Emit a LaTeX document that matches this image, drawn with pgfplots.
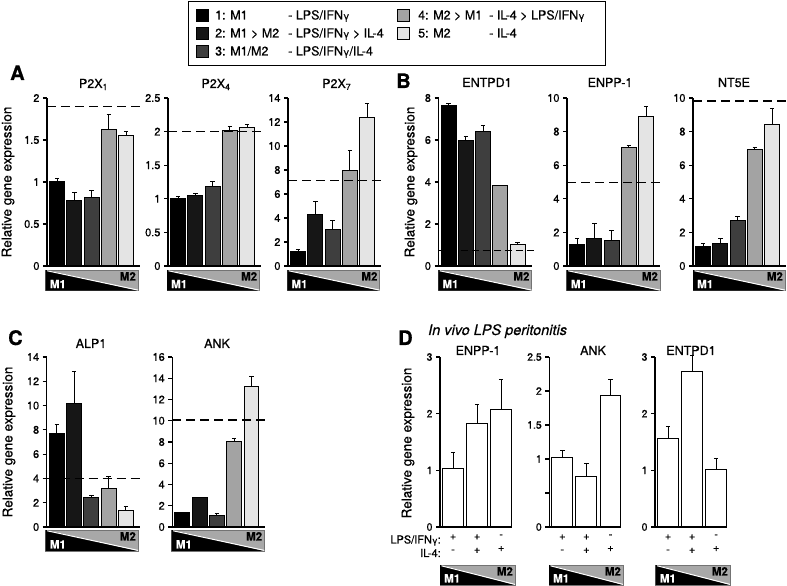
\documentclass[border=0pt]{standalone}
\usepackage{pgfplots}
\pgfplotsset{compat=1.18}
\usepackage{fontspec}
\setmainfont{TeX Gyre Heros}[FakeBold=0.6]
\definecolor{c1}{HTML}{000000}
\definecolor{c2}{HTML}{161616}
\definecolor{c3}{HTML}{3E3E3E}
\definecolor{c4}{HTML}{A3A3A3}
\definecolor{c5}{HTML}{E4E4E4}
\definecolor{boxgray}{HTML}{A8A8A8}
\pgfplotsset{
  panel/.style={
    scale only axis, anchor=south west, width=93pt, height=168pt,
    axis lines=left, axis line style={-, line width=1.1pt},
    ymin=0, xmin=0.42, xmax=5.8,
    xtick=\empty, tick align=outside, major tick length=4pt,
    ytick style={line width=1.1pt, black},
    yticklabel style={font=\fontsize{11}{12}\selectfont},
    /pgf/number format/assume math mode=true,
    clip=false,
  },
  dpanel/.style={
    panel, width=72pt, height=170pt, xmin=0.46, xmax=3.45,
    xtick={1,2,3}, xticklabels={{+\\-},{+\\+},{-\\+}},
    xtick style={draw=none},
    xticklabel style={align=center, font=\fontsize{11}{13.3}\selectfont},
    yticklabel style={font=\fontsize{10.5}{12}\selectfont},
  },
  bar/.style={ybar, bar width=0.865, bar shift=0pt, draw=black, line width=1pt,
    /pgfplots/error bars/y dir=plus, /pgfplots/error bars/y explicit,
    /pgfplots/error bars/error bar style={line width=1pt, black, solid},
    /pgfplots/error bars/error mark options={rotate=90, line width=1pt, mark size=2.2pt, black}},
  b1/.style={fill=c1, bar},
  b2/.style={fill=c2, bar},
  b3/.style={fill=c3, bar},
  b4/.style={fill=c4, bar},
  b5/.style={fill=c5, bar},
  bw/.style={fill=white, bar},
  dashline/.style={black, line width=1.3pt, dash pattern=on 9pt off 5pt, forget plot},
}
\newcommand{\mmbox}[4]{%
  \begin{scope}[shift={(#1,586-#2-#4)}]
    \fill[boxgray] (0,0) rectangle (#3,#4);
    \draw[black!55, line width=0.7pt] (0,0) rectangle (#3,#4);
    \fill[black] (0,0) -- (0,#4) -- (#3,0) -- cycle;
    \draw[white, line width=1pt] (1.5,#4-0.8) -- (#3,0.6);
    \node[white, anchor=base west, inner sep=0pt, font=\bfseries\fontsize{11.5}{12}\selectfont] at (4,2.5) {M1};
    \node[black, anchor=base east, inner sep=0pt, font=\bfseries\fontsize{11.5}{12}\selectfont] at (#3-2,#4-10.5) {M2};
  \end{scope}}
\newcommand{\legfont}{\fontsize{12.5}{14}\selectfont}
\newcommand{\ifng}{IFN{\fontsize{10}{10}\selectfont γ}}
\begin{document}
\begin{tikzpicture}[x=1pt,y=1pt]
\useasboundingbox (0,0) rectangle (787,586);

% ---------------- Legend ----------------
\draw[line width=0.8pt] (188,586-65) rectangle (605,586-1);
\foreach \c/\r in {c1/15,c2/33,c3/51}{\draw[fill=\c, line width=0.6pt] (196,586-\r-6) rectangle (208,586-\r+6);}
\foreach \c/\r in {c4/15,c5/33}{\draw[fill=\c, line width=0.6pt] (397,586-\r-6) rectangle (409,586-\r+6);}
\begin{scope}[every node/.style={anchor=base west, inner sep=0pt, font=\legfont}]
\node at (215,586-19.5) {1: M1};
\node at (288,586-19.5) {- LPS/\ifng};
\node at (215,586-37.5) {2: M1 > M2};
\node at (288,586-37.5) {- LPS/\ifng{} > IL-4};
\node at (215,586-55.5) {3: M1/M2};
\node at (288,586-55.5) {- LPS/\ifng/IL-4};
\node at (418,586-19.5) {4: M2 > M1};
\node at (489,586-19.5) {- IL-4 > LPS/\ifng};
\node at (418,586-37.5) {5: M2};
\node at (489,586-37.5) {- IL-4};
\end{scope}

% ---------------- Panel A ----------------
\begin{axis}[panel, at={(47pt,320pt)}, ymax=2, ytick={0,0.5,1,1.5,2}]
\addplot[b1] coordinates {(1,1.00) +- (0,0.04)};
\addplot[b2] coordinates {(2,0.78) +- (0,0.09)};
\addplot[b3] coordinates {(3,0.81) +- (0,0.085)};
\addplot[b4] coordinates {(4,1.63) +- (0,0.17)};
\addplot[b5] coordinates {(5,1.55) +- (0,0.05)};
\addplot[dashline] coordinates {(0.42,1.9) (5.92,1.9)};
\end{axis}
\begin{axis}[panel, at={(168pt,320pt)}, ymax=2.5, ytick={0,0.5,1,1.5,2,2.5}]
\addplot[b1] coordinates {(1,1.00) +- (0,0.04)};
\addplot[b2] coordinates {(2,1.045) +- (0,0.035)};
\addplot[b3] coordinates {(3,1.19) +- (0,0.07)};
\addplot[b4] coordinates {(4,2.01) +- (0,0.07)};
\addplot[b5] coordinates {(5,2.06) +- (0,0.04)};
\addplot[dashline] coordinates {(0.42,2.0) (5.92,2.0)};
\end{axis}
\begin{axis}[panel, at={(288pt,320pt)}, ymax=14, ytick={0,2,4,6,8,10,12,14}]
\addplot[b1] coordinates {(1,1.22) +- (0,0.17)};
\addplot[b2] coordinates {(2,4.30) +- (0,1.05)};
\addplot[b3] coordinates {(3,3.05) +- (0,0.78)};
\addplot[b4] coordinates {(4,7.93) +- (0,1.66)};
\addplot[b5] coordinates {(5,12.34) +- (0,1.24)};
\addplot[dashline] coordinates {(0.42,7.1) (5.92,7.1)};
\end{axis}

% ---------------- Panel B ----------------
\begin{axis}[panel, at={(438.5pt,320pt)}, ymax=8, ytick={0,2,4,6,8}]
\addplot[b1] coordinates {(1,7.62) +- (0,0.11)};
\addplot[b2] coordinates {(2,5.99) +- (0,0.16)};
\addplot[b3] coordinates {(3,6.39) +- (0,0.30)};
\addplot[b4] coordinates {(4,3.82) +- (0,0.03)};
\addplot[b5] coordinates {(5,1.03) +- (0,0.11)};
\addplot[dashline, line width=0.9pt, dash pattern=on 7pt off 4pt] coordinates {(0.42,0.76) (5.95,0.76)};
\end{axis}
\begin{axis}[panel, at={(567pt,320pt)}, ymax=10, ytick={0,2,4,6,8,10}]
\addplot[b1] coordinates {(1,1.25) +- (0,0.39)};
\addplot[b2] coordinates {(2,1.64) +- (0,0.86)};
\addplot[b3] coordinates {(3,1.49) +- (0,0.65)};
\addplot[b4] coordinates {(4,7.03) +- (0,0.16)};
\addplot[b5] coordinates {(5,8.91) +- (0,0.56)};
\addplot[dashline] coordinates {(0.42,4.95) (5.92,4.95)};
\end{axis}
\begin{axis}[panel, at={(693pt,320pt)}, ymax=10, ytick={0,2,4,6,8,10}]
\addplot[b1] coordinates {(1,1.15) +- (0,0.16)};
\addplot[b2] coordinates {(2,1.35) +- (0,0.29)};
\addplot[b3] coordinates {(3,2.69) +- (0,0.28)};
\addplot[b4] coordinates {(4,6.93) +- (0,0.12)};
\addplot[b5] coordinates {(5,8.44) +- (0,0.91)};
\addplot[dashline] coordinates {(0.42,9.82) (5.92,9.82)};
\end{axis}

% ---------------- Panel C ----------------
\begin{axis}[panel, at={(46.7pt,59pt)}, height=170pt, ymax=14, ytick={0,2,4,6,8,10,12,14}]
\addplot[b1] coordinates {(1,7.74) +- (0,0.66)};
\addplot[b2] coordinates {(2,10.13) +- (0,2.69)};
\addplot[b3] coordinates {(3,2.39) +- (0,0.22)};
\addplot[b4] coordinates {(4,3.16) +- (0,1.01)};
\addplot[b5] coordinates {(5,1.32) +- (0,0.33)};
\addplot[dashline] coordinates {(0.42,4.0) (5.92,4.0)};
\end{axis}
\begin{axis}[panel, at={(172.3pt,59pt)}, height=170pt, ymax=16, ytick={0,2,4,6,8,10,12,14,16}]
\addplot[b1] coordinates {(1,1.32) +- (0,0.02)};
\addplot[b2] coordinates {(2,2.73) +- (0,0.09)};
\addplot[b3] coordinates {(3,1.07) +- (0,0.18)};
\addplot[b4] coordinates {(4,8.03) +- (0,0.28)};
\addplot[b5] coordinates {(5,13.18) +- (0,1.03)};
\addplot[dashline] coordinates {(0.42,10.07) (5.92,10.07)};
\end{axis}

% ---------------- Panel D ----------------
\begin{axis}[dpanel, at={(440pt,59pt)}, ymax=3, ytick={0,1,2,3}]
\addplot[bw] coordinates {(1,1.03) +- (0,0.29)};
\addplot[bw] coordinates {(2,1.82) +- (0,0.35)};
\addplot[bw] coordinates {(3,2.07) +- (0,0.53)};
\end{axis}
\begin{axis}[dpanel, at={(549.3pt,59pt)}, ymax=2.5, ytick={0,0.5,1,1.5,2,2.5}, yticklabels={0,,1,1.5,2,2.5}]
\addplot[bw] coordinates {(1,1.02) +- (0,0.10)};
\addplot[bw] coordinates {(2,0.74) +- (0,0.19)};
\addplot[bw] coordinates {(3,1.94) +- (0,0.23)};
\end{axis}
\begin{axis}[dpanel, at={(655pt,59pt)}, ymax=3, ytick={0,1,2,3}]
\addplot[bw] coordinates {(1,1.57) +- (0,0.20)};
\addplot[bw] coordinates {(2,2.74) +- (0,0.28)};
\addplot[bw] coordinates {(3,1.02) +- (0,0.19)};
\end{axis}

% ---------------- Texts ----------------
\begin{scope}[every node/.style={inner sep=0pt}]
\node[anchor=base west, font=\bfseries\fontsize{20}{20}\selectfont] at (10,586-80) {A};
\node[anchor=base west, font=\bfseries\fontsize{20}{20}\selectfont] at (396,586-88) {B};
\node[anchor=base west, font=\bfseries\fontsize{20}{20}\selectfont] at (8,586-345) {C};
\node[anchor=base west, font=\bfseries\fontsize{20}{20}\selectfont] at (398,586-345) {D};
\node[anchor=base west, font=\itshape\fontsize{14.5}{16}\selectfont] at (428,586-335) {In vivo LPS peritonitis};

\foreach \x/\y in {8/182, 411/182, 9/442, 408/443}{
  \node[rotate=90, font=\fontsize{13.5}{15}\selectfont] at (\x,586-\y) {Relative gene expression};}

\begin{scope}[every node/.append style={anchor=base, font=\fontsize{12.5}{14}\selectfont}]
\node at (93.5,586-88) {P2X\textsubscript{1}};
\node at (216,586-88) {P2X\textsubscript{4}};
\node at (336.7,586-88) {P2X\textsubscript{7}};
\node at (487,586-87) {ENTPD1};
\node at (610,586-87) {ENPP-1};
\node at (734,586-87) {NT5E};
\node at (91,586-348) {ALP1};
\node at (217,586-348) {ANK};
\node at (478,586-355) {ENPP-1};
\node at (593,586-355) {ANK};
\node at (691,586-355) {ENTPD1};
\end{scope}

\node[anchor=base east, font=\fontsize{11}{12}\selectfont] at (441,586-543.5) {LPS/IFN{\fontsize{9}{9}\selectfont γ}:};
\node[anchor=base east, font=\fontsize{11}{12}\selectfont] at (441,586-557) {IL-4:};
\end{scope}

% ---------------- M1/M2 boxes ----------------
\mmbox{45.7}{270}{92.3}{20.7}
\mmbox{167}{270}{92.3}{20.7}
\mmbox{287.3}{270}{92.3}{20.7}
\mmbox{438.3}{270}{93.3}{20.7}
\mmbox{566.7}{270}{93.3}{20.7}
\mmbox{693}{270}{92}{20.7}
\mmbox{45.7}{530}{92.3}{21}
\mmbox{171.7}{530}{92.6}{21}
\mmbox{440}{565}{75}{20}
\mmbox{549}{565}{74}{20}
\mmbox{655.7}{565}{74.3}{20}
\end{tikzpicture}
\end{document}
